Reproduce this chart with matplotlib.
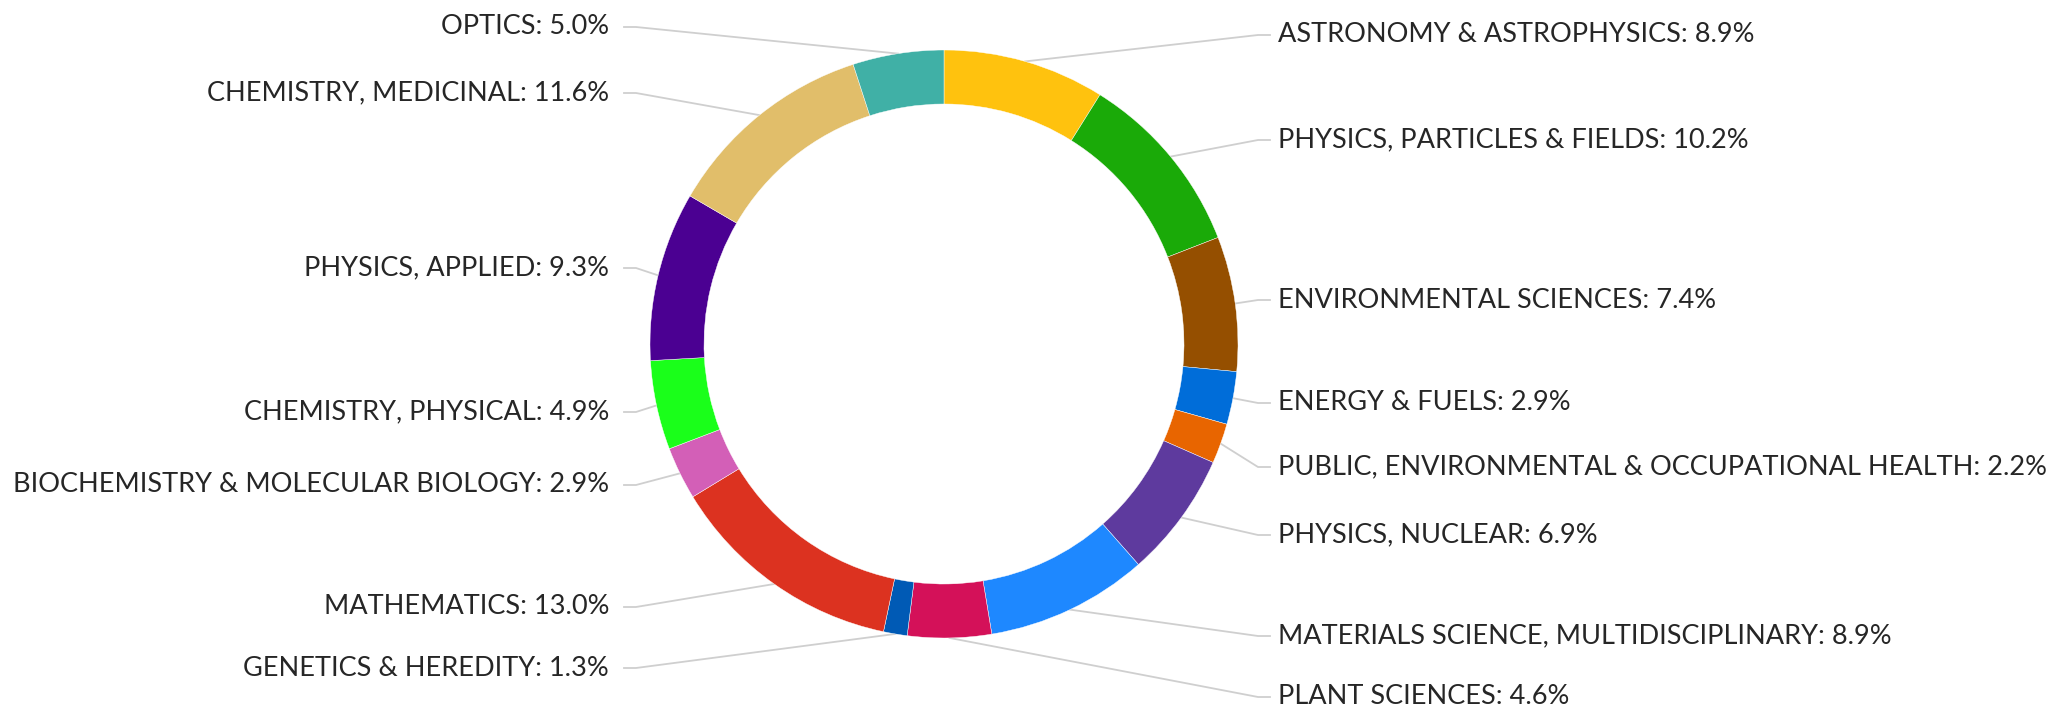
import numpy as np
import matplotlib
matplotlib.use("Agg")
import matplotlib.pyplot as plt

# clockwise from 12 o'clock
categories = [
    "ASTRONOMY & ASTROPHYSICS",
    "PHYSICS, PARTICLES & FIELDS",
    "ENVIRONMENTAL SCIENCES",
    "ENERGY & FUELS",
    "PUBLIC, ENVIRONMENTAL & OCCUPATIONAL HEALTH",
    "PHYSICS, NUCLEAR",
    "MATERIALS SCIENCE, MULTIDISCIPLINARY",
    "PLANT SCIENCES",
    "GENETICS & HEREDITY",
    "MATHEMATICS",
    "BIOCHEMISTRY & MOLECULAR BIOLOGY",
    "CHEMISTRY, PHYSICAL",
    "PHYSICS, APPLIED",
    "CHEMISTRY, MEDICINAL",
    "OPTICS",
]
shares = [8.9, 10.2, 7.4, 2.9, 2.2, 6.9, 8.9, 4.6, 1.3, 13.0, 2.9, 4.9, 9.3, 11.6, 5.0]
colors = ["#FFC20E", "#1AAA08", "#954F00", "#006DD9", "#E86500", "#5E3A9E",
          "#1E88FF", "#D41159", "#005AB5", "#DC3220", "#D35FB7", "#1AFF1A",
          "#4B0092", "#E1BE6A", "#40B0A6"]

# label rows (pixel y from top), hand placed like the original layout
label_y = [35, 140, 300, 403, 467, 535, 636, 697, 668, 607, 485, 412, 268, 93, 27]

W, H = 2051, 710
cx, cy, R, ring = 944, 344, 294, 54

fig = plt.figure(figsize=(W / 100, H / 100), dpi=100)
ax = fig.add_axes([0, 0, 1, 1])
ax.set_xlim(0, W)
ax.set_ylim(0, H)
ax.axis("off")

wedges, _ = ax.pie(shares, colors=colors, startangle=90, counterclock=False,
                   center=(cx, H - cy), radius=R,
                   wedgeprops=dict(width=ring, linewidth=0.3, edgecolor="white"))
ax.set_xlim(0, W)
ax.set_ylim(0, H)

for w, name, val, ly in zip(wedges, categories, shares, label_y):
    mid = np.deg2rad((w.theta1 + w.theta2) / 2)
    x0 = cx + R * np.cos(mid)
    y0 = (H - cy) + R * np.sin(mid)
    yl = H - ly
    if np.cos(mid) >= 0:
        xs = [x0, 1258, 1270]
        tx, ha = 1278, "left"
    else:
        xs = [x0, 636, 624]
        tx, ha = 609, "right"
    ax.plot(xs, [y0, yl, yl], color="#cfcfcf", lw=1.3, zorder=0)
    ax.text(tx, yl, f"{name}: {val:.1f}%", ha=ha, va="center",
            fontsize=19.5, color="#262626", family="Lato")

fig.savefig("out.png", dpi=100)
